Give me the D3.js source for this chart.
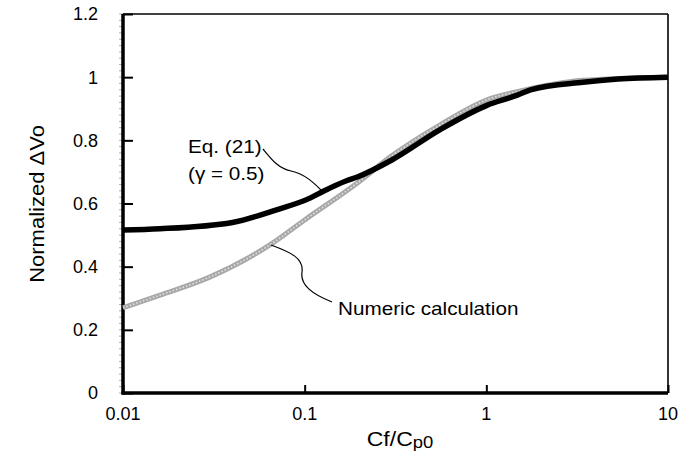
<!DOCTYPE html>
<html>
<head>
<meta charset="utf-8">
<script src="https://cdn.jsdelivr.net/npm/d3@7"></script>
<style>
  body { margin: 0; background: #fff; }
  text { font-family: "Liberation Sans", Arial, sans-serif; fill: #000; }
</style>
</head>
<body>
<div id="chart"></div>
<script>
// values
var xTicks = [0.01, 0.1, 1, 10];
var xTickLabels = ["0.01", "0.1", "1", "10"];
var yTicks = [0, 0.2, 0.4, 0.6, 0.8, 1, 1.2];
var yTickLabels = ["0", "0.2", "0.4", "0.6", "0.8", "1", "1.2"];

// Eq. (21), gamma = 0.5
var eqX = [0.01, 0.016, 0.04, 0.07, 0.107, 0.126, 0.17, 0.195, 0.3, 0.56, 1.0, 1.48, 1.75, 3.4, 5.3, 10];
var eqY = [0.516, 0.52, 0.54, 0.58, 0.617, 0.638, 0.672, 0.684, 0.737, 0.835, 0.91, 0.943, 0.96, 0.984, 0.994, 1.0];

// numeric calculation
var numX = [0.01, 0.016, 0.03, 0.064, 0.1, 0.195, 0.3, 0.56, 1.05, 1.5, 3.4, 10];
var numY = [0.27, 0.31, 0.367, 0.468, 0.548, 0.665, 0.75, 0.85, 0.932, 0.955, 0.99, 1.0];

var W = 695, H = 466;
var margin = {top: 14, right: 27, bottom: 73, left: 123};
var width = W - margin.left - margin.right;
var height = H - margin.top - margin.bottom;

var svg = d3.select("#chart").append("svg")
  .attr("width", W).attr("height", H);
var g = svg.append("g").attr("transform", "translate(" + margin.left + "," + margin.top + ")");

var x = d3.scaleLog().domain([0.01, 10]).range([0, width]);
var y = d3.scaleLinear().domain([0, 1.2]).range([height, 0]);

// minor ticks on the left of the y axis
g.selectAll(".minor")
  .data(d3.range(0, 1.2001, 0.02))
  .enter().append("line")
  .attr("x1", -4).attr("x2", 0)
  .attr("y1", function(d) { return y(d); })
  .attr("y2", function(d) { return y(d); })
  .attr("stroke", "#999").attr("stroke-width", 0.8);

// frame: thin top/right, thick left/bottom
g.append("line").attr("x1", 0).attr("x2", width).attr("y1", 0).attr("y2", 0)
  .attr("stroke", "#000").attr("stroke-width", 1.6);
g.append("line").attr("x1", width).attr("x2", width).attr("y1", 0).attr("y2", height)
  .attr("stroke", "#000").attr("stroke-width", 1.6);

// y axis, ticks pointing inwards
var yAxis = g.append("g")
  .call(d3.axisRight(y).tickValues(yTicks).tickSize(10).tickFormat(""));
yAxis.select(".domain").remove();
yAxis.selectAll("line").attr("stroke-width", 2);
g.selectAll(".ylab")
  .data(yTicks)
  .enter().append("text")
  .attr("x", -25)
  .attr("y", function(d) { return y(d); })
  .attr("dy", "0.36em")
  .attr("text-anchor", "end")
  .style("font-size", "18px")
  .text(function(d, i) { return yTickLabels[i]; });

// x axis, ticks pointing inwards
var xAxis = g.append("g")
  .attr("transform", "translate(0," + height + ")")
  .call(d3.axisTop(x).tickValues(xTicks).tickSize(8).tickFormat(""));
xAxis.select(".domain").remove();
xAxis.selectAll("line").attr("stroke-width", 2);
g.selectAll(".xlab")
  .data(xTicks)
  .enter().append("text")
  .attr("x", function(d) { return x(d); })
  .attr("y", height + 27)
  .attr("text-anchor", "middle")
  .style("font-size", "18px")
  .text(function(d, i) { return xTickLabels[i]; });

g.append("line").attr("x1", 0).attr("x2", 0).attr("y1", 0).attr("y2", height + 1.5)
  .attr("stroke", "#000").attr("stroke-width", 3.5);
g.append("line").attr("x1", -1.5).attr("x2", width).attr("y1", height).attr("y2", height)
  .attr("stroke", "#000").attr("stroke-width", 3.5);

var line = d3.line()
  .x(function(d) { return x(d[0]); })
  .y(function(d) { return y(d[1]); })
  .curve(d3.curveMonotoneX);

var numData = numX.map(function(v, i) { return [v, numY[i]]; });
var eqData = eqX.map(function(v, i) { return [v, eqY[i]]; });

// grey textured curve
g.append("path").datum(numData)
  .attr("fill", "none").attr("stroke", "#a8a8a8")
  .attr("stroke-width", 5).attr("d", line);
g.append("path").datum(numData)
  .attr("fill", "none").attr("stroke", "#e2e2e2")
  .attr("stroke-width", 1.6).attr("stroke-dasharray", "1.5,2")
  .attr("d", line);

// black curve
g.append("path").datum(eqData)
  .attr("fill", "none").attr("stroke", "#000")
  .attr("stroke-width", 5.5).attr("stroke-linejoin", "round")
  .attr("d", line);

// annotations (the original lettering is a bit wide)
svg.append("text").attr("transform", "translate(188,153) scale(1.15,1)")
  .style("font-size", "18px").text("Eq. (21)");
svg.append("text").attr("transform", "translate(188,180) scale(1.15,1)")
  .style("font-size", "18px").text("(\u03b3 = 0.5)");
svg.append("path")
  .attr("d", "M263,149 C272,160 278,168 291,171 C305,174 314,183 322,191")
  .attr("fill", "none").attr("stroke", "#000").attr("stroke-width", 1.2);

svg.append("path")
  .attr("d", "M271,245 C290,252 304,258 302,272 C300,285 312,294 332,302")
  .attr("fill", "none").attr("stroke", "#000").attr("stroke-width", 1.2);
svg.append("text").attr("transform", "translate(338,315) scale(1.15,1)")
  .style("font-size", "18px").text("Numeric calculation");

// axis titles
svg.append("text")
  .attr("transform", "translate(44,204) rotate(-90) scale(1.1,1)")
  .attr("text-anchor", "middle")
  .style("font-size", "20px")
  .text("Normalized \u0394Vo");

var xt = svg.append("text")
  .attr("transform", "translate(400,446) scale(1.15,1)")
  .attr("text-anchor", "middle")
  .style("font-size", "20px");
xt.append("tspan").text("Cf/C");
xt.append("tspan").attr("dy", 2).style("font-size", "16px").text("p0");
</script>
</body>
</html>
